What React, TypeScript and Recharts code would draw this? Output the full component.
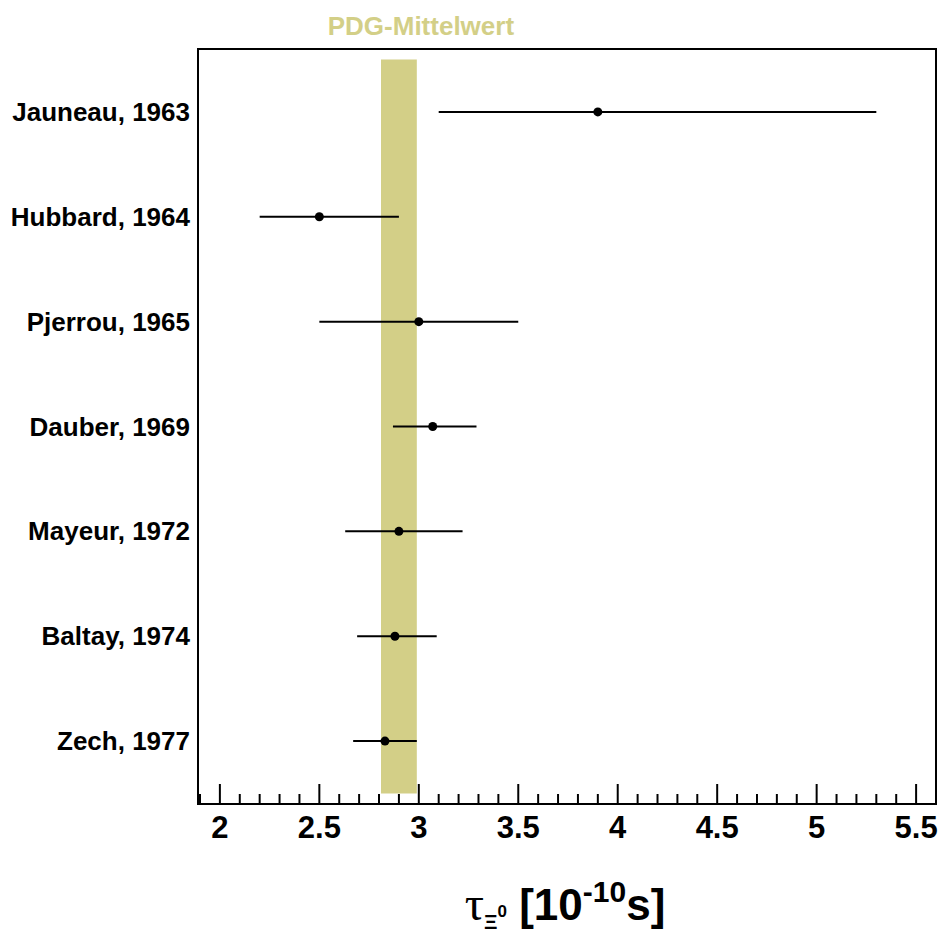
import {
  ComposedChart,
  XAxis,
  YAxis,
  Scatter,
  ErrorBar,
  ReferenceArea,
} from 'recharts'

const experiments = [
  'Jauneau, 1963',
  'Hubbard, 1964',
  'Pjerrou, 1965',
  'Dauber, 1969',
  'Mayeur, 1972',
  'Baltay, 1974',
  'Zech, 1977',
]
const lifetimes = [3.9, 2.5, 3.0, 3.07, 2.9, 2.88, 2.83]
const errLow = [0.8, 0.3, 0.5, 0.2, 0.27, 0.19, 0.16]
const errHigh = [1.4, 0.4, 0.5, 0.22, 0.32, 0.21, 0.16]

const pdgMean = 2.9
const pdgErr = 0.09

// rows from top to bottom: 7 .. 1
const rowValues = experiments.map((_, i) => experiments.length - i)

const data = experiments.map((name, i) => ({
  name,
  x: lifetimes[i],
  y: rowValues[i],
  err: [errLow[i], errHigh[i]],
}))

const X_MIN = 1.89
const X_MAX = 5.6
const Y_MIN = 0.4
const Y_MAX = 7.6

// minor ticks every 0.1, major (labelled) every 0.5
const xTicks: number[] = []
for (let k = 19; k <= 56; k++) xTicks.push(k / 10)

const FONT = '"Liberation Sans", Arial, sans-serif'
const BAND = '#d3cf87'

function XTick(props: any) {
  const { x, y, payload } = props
  const v = payload.value
  const major = Math.abs(v * 2 - Math.round(v * 2)) < 1e-6
  return (
    <g>
      <line x1={x} y1={y} x2={x} y2={y - (major ? 20 : 10)} stroke="#000" strokeWidth={2} />
      {major && (
        <text x={x} y={y + 34} textAnchor="middle" fontFamily={FONT} fontWeight="bold" fontSize={31} fill="#000">
          {String(Math.round(v * 10) / 10)}
        </text>
      )}
    </g>
  )
}

function YTick(props: any) {
  const { x, y, payload } = props
  const idx = experiments.length - payload.value
  return (
    <text x={x} y={y} dy={9} textAnchor="end" fontFamily={FONT} fontWeight="bold" fontSize={26} fill="#000">
      {experiments[idx]}
    </text>
  )
}

function AxisTitle() {
  return (
    <g>
      <text x={565} y={920} textAnchor="middle" fontFamily={FONT} fontWeight="bold" fontSize={44} fill="#000">
        <tspan fontFamily='"Liberation Serif", "DejaVu Serif", serif' fontWeight="normal" fontSize={48}>τ</tspan>
        <tspan fontSize={21} dy={9}>Ξ</tspan>
        <tspan fontSize={17} dy={-12}>0</tspan>
        <tspan dy={3}> [10</tspan>
        <tspan fontSize={30} dy={-18}>-10</tspan>
        <tspan dy={18}>s]</tspan>
      </text>
    </g>
  )
}

function BandLabel(props: any) {
  const vb = props.viewBox
  return (
    <text
      x={vb.x + vb.width / 2 + 22}
      y={35}
      textAnchor="middle"
      fontFamily={FONT}
      fontWeight="bold"
      fontSize={26}
      fill={BAND}
    >
      PDG-Mittelwert
    </text>
  )
}

export default function App() {
  return (
    <div style={{ position: 'absolute', left: 0, top: 0, width: 940, height: 932, background: '#fff' }}>
      <ComposedChart
        width={940}
        height={932}
        data={data}
        margin={{ top: 49, right: 4, bottom: 0, left: 0 }}
      >
        <XAxis
          type="number"
          dataKey="x"
          domain={[X_MIN, X_MAX]}
          allowDataOverflow
          ticks={xTicks}
          interval={0}
          tickLine={false}
          tickSize={0}
          tickMargin={0}
          tick={<XTick />}
          axisLine={{ stroke: '#000', strokeWidth: 2 }}
          height={128}
          label={<AxisTitle />}
        />
        <YAxis
          type="number"
          dataKey="y"
          domain={[Y_MIN, Y_MAX]}
          allowDataOverflow
          ticks={rowValues}
          interval={0}
          tickLine={false}
          tickSize={0}
          tickMargin={8}
          tick={<YTick />}
          axisLine={{ stroke: '#000', strokeWidth: 2 }}
          width={198}
        />
        <ReferenceArea
          x1={pdgMean - pdgErr}
          x2={pdgMean + pdgErr}
          y1={0.5}
          y2={7.5}
          fill={BAND}
          fillOpacity={1}
          stroke="none"
          label={<BandLabel />}
        />
        <ReferenceArea
          x1={X_MIN}
          x2={X_MAX}
          y1={Y_MIN}
          y2={Y_MAX}
          fill="none"
          stroke="#000"
          strokeWidth={2}
          ifOverflow="visible"
        />
        <Scatter
          dataKey="y"
          fill="#000"
          isAnimationActive={false}
          shape={(p: any) => <circle cx={p.cx} cy={p.cy} r={4.5} fill="#000" />}
        >
          <ErrorBar dataKey="err" direction="x" width={0} stroke="#000" strokeWidth={2} />
        </Scatter>
      </ComposedChart>
    </div>
  )
}
